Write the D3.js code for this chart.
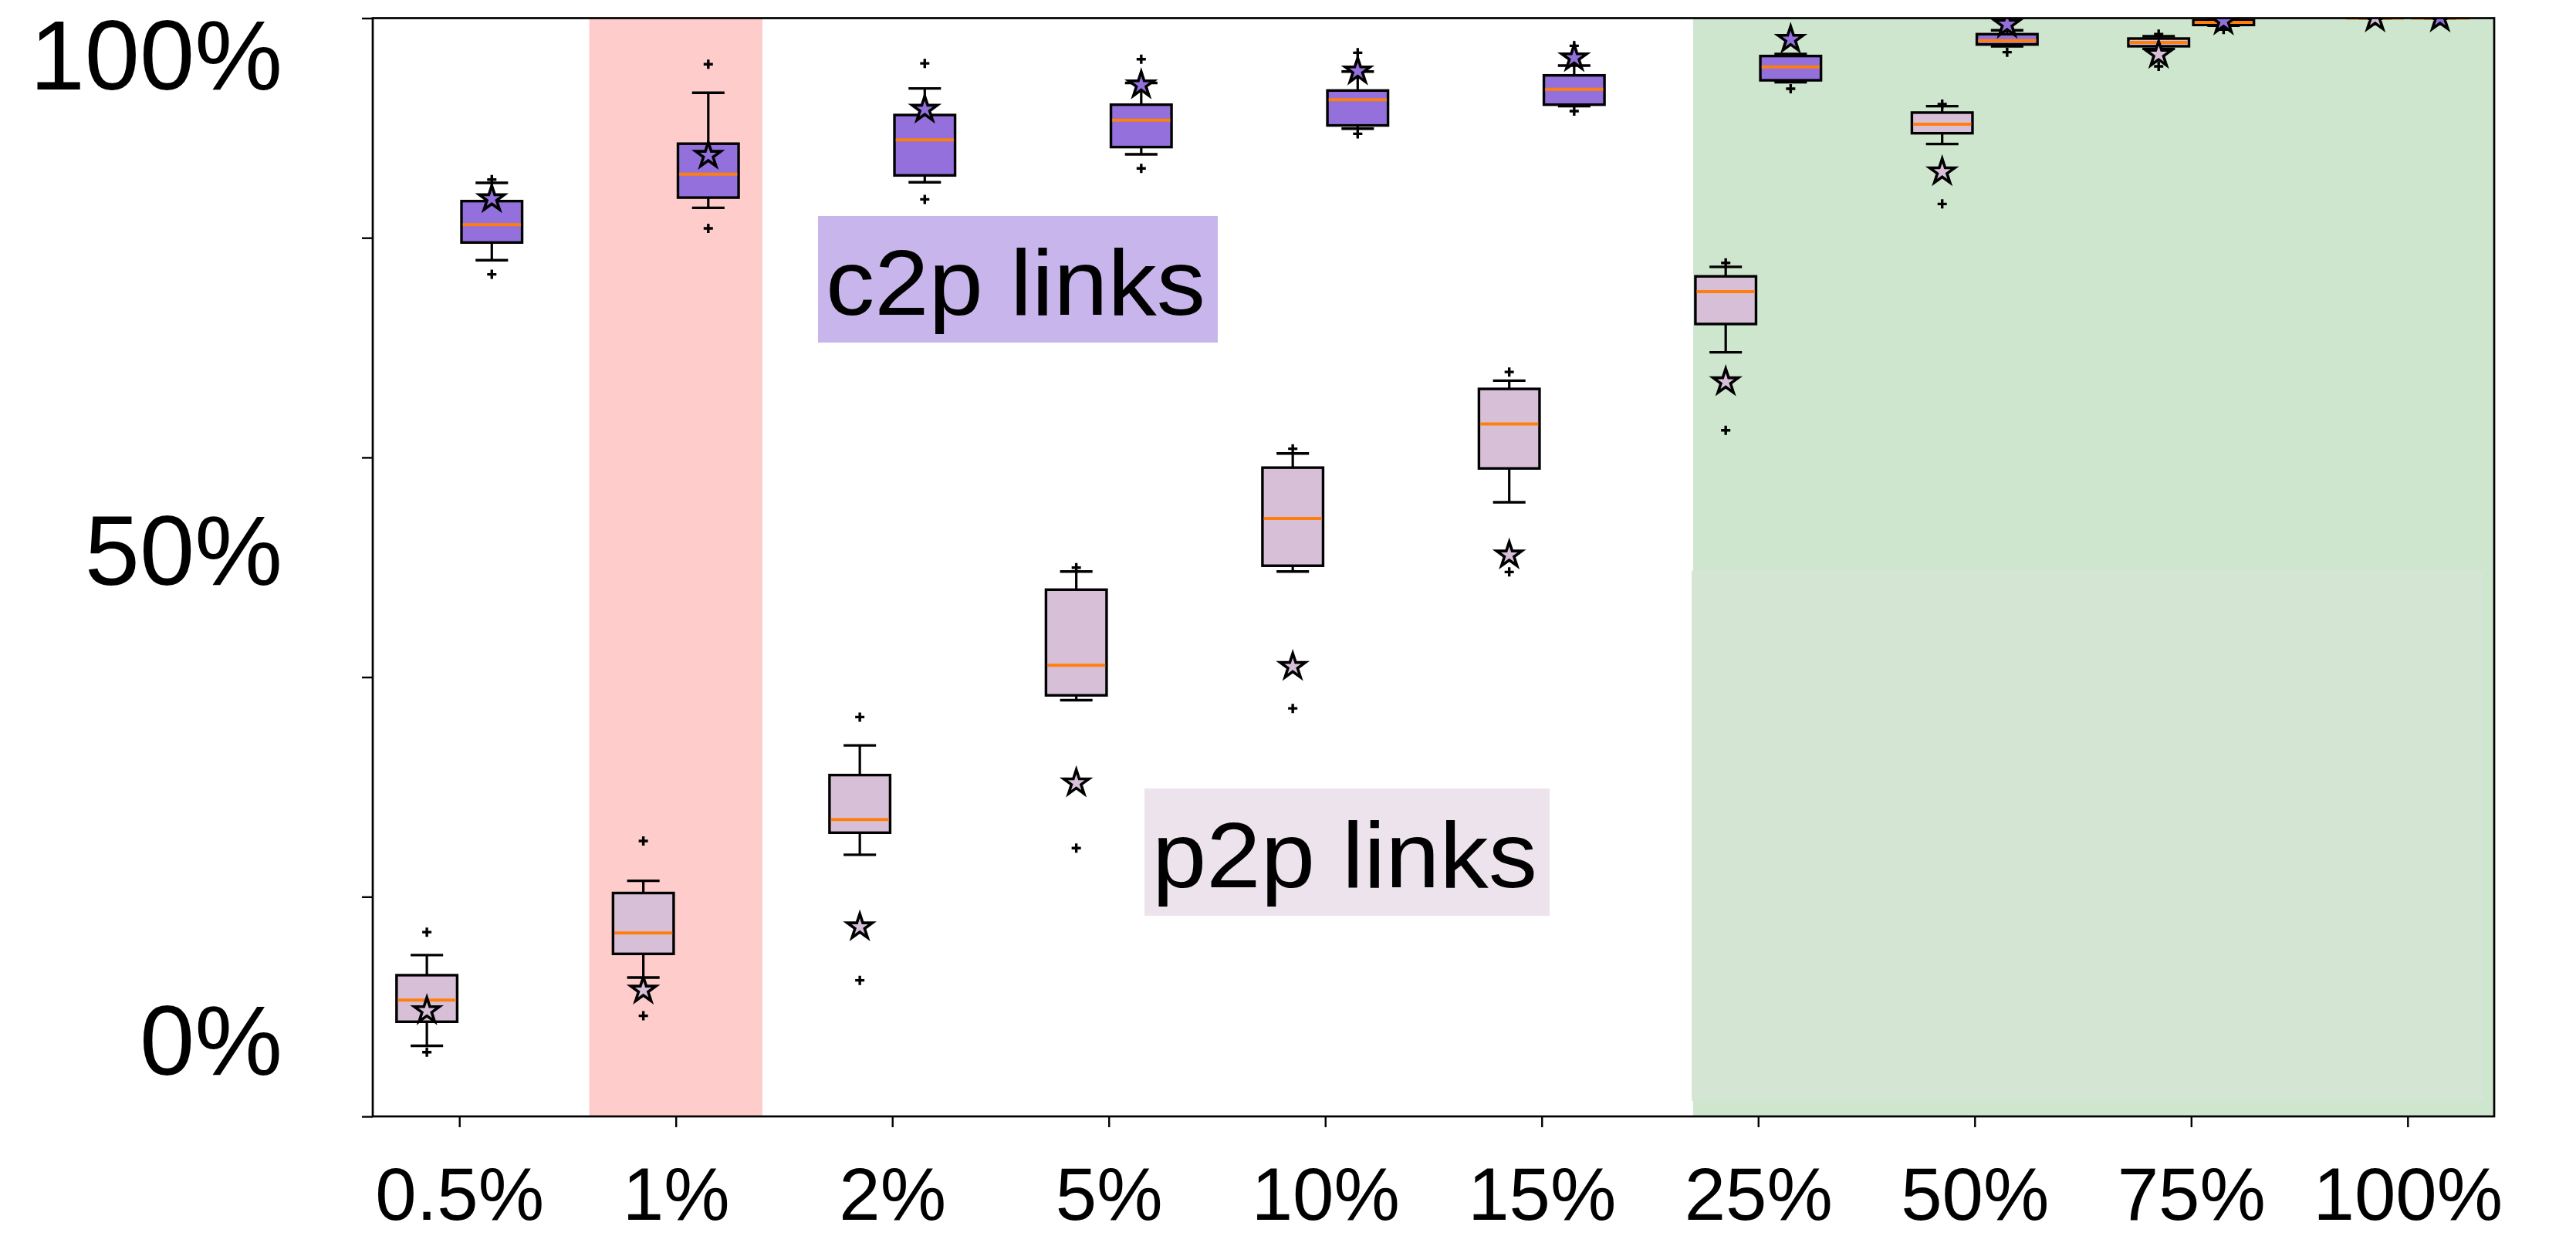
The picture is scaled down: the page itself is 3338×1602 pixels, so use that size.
<!DOCTYPE html>
<html>
<head>
<meta charset="utf-8">
<script src="https://cdn.jsdelivr.net/npm/d3@7"></script>
<style>
body { margin: 0; background: #fff; }
text { font-family: "Liberation Sans", Arial, Helvetica, sans-serif; fill: #000; }
</style>
</head>
<body>
<svg id="chart" width="3338" height="1602"></svg>
<script>
var categories = ["0.5%", "1%", "2%", "5%", "10%", "15%", "25%", "50%", "75%", "100%"];

// [low whisker, q1, median, q3, high whisker]
var p2pBoxes = [
    [0.0643, 0.0862, 0.1059, 0.1286, 0.1469],
    [0.1264, 0.1480, 0.1670, 0.2034, 0.2145],
    [0.2382, 0.2583, 0.2702, 0.3108, 0.3378],
    [0.3790, 0.3834, 0.4107, 0.4796, 0.4961],
    [0.4961, 0.5014, 0.5445, 0.5907, 0.6036],
    [0.5592, 0.5900, 0.6305, 0.6624, 0.6699],
    [0.6957, 0.7215, 0.7510, 0.7649, 0.7735],
    [0.8854, 0.8952, 0.9034, 0.9140, 0.9198],
    [0.9720, 0.9744, 0.9779, 0.9814, 0.9835],
    [1.0, 1.0, 1.0, 1.0, 1.0]
];
var p2pMeans = [0.0962, 0.1149, 0.1725, 0.3036, 0.4096, 0.5111, 0.6688, 0.8600, 0.9669, 1.0];
var p2pFliers = [
    [0.0585, 0.1678], [0.0916, 0.2508], [0.1239, 0.3636], [0.2443, 0.4997], [0.3715, 0.6079],
    [0.4957, 0.6778], [0.6247, 0.7771], [0.8308, 0.9217], [0.9561, 0.9854], []
];

var c2pBoxes = [
    [0.7796, 0.7957, 0.8119, 0.8334, 0.8500],
    [0.8273, 0.8366, 0.8580, 0.8857, 0.9320],
    [0.8505, 0.8568, 0.8891, 0.9118, 0.9360],
    [0.8760, 0.8826, 0.9071, 0.9212, 0.9410],
    [0.8994, 0.9023, 0.9257, 0.9341, 0.9514],
    [0.9198, 0.9212, 0.9352, 0.9479, 0.9568],
    [0.9416, 0.9434, 0.9556, 0.9655, 0.9673],
    [0.9744, 0.9760, 0.9795, 0.9854, 0.9889],
    [0.9931, 0.9938, 0.9961, 0.9978, 1.0],
    [1.0, 1.0, 1.0, 1.0, 1.0]
];
var c2pMeans = [0.8355, 0.8750, 0.9170, 0.9392, 0.9518, 0.9638, 0.9806, 0.9943, 0.9973, 1.0];
var c2pFliers = [
    [0.7667, 0.8530], [0.8086, 0.9580], [0.8350, 0.9588], [0.8632, 0.9626], [0.8947, 0.9685],
    [0.9153, 0.9748], [0.9357], [0.9690], [0.9896], []
];

var yTicks = [0, 0.2, 0.4, 0.6, 0.8, 1.0];
var yLabels = ["0%", "50%", "100%"];
var yLabelAt = [0.0703, 0.5163, 0.9673];

var W = 3338, H = 1602;
var m = {left: 483, right: 106, top: 23.5, bottom: 155};

var svg = d3.select("#chart");

var x = d3.scalePoint()
    .domain(categories)
    .range([m.left, W - m.right])
    .padding(0.4);
var y = d3.scaleLinear()
    .domain([0, 1])
    .range([H - m.bottom, m.top]);

var step = x.step();
var boxW = 0.28 * step, capW = 0.15 * step, off = 0.15 * step;

svg.append("defs").append("clipPath")
    .attr("id", "plot-clip")
    .append("rect")
    .attr("x", m.left).attr("y", m.top)
    .attr("width", W - m.right - m.left)
    .attr("height", H - m.bottom - m.top);

// shaded regions
svg.append("rect")
    .attr("x", x("1%") - 0.4 * step)
    .attr("y", m.top)
    .attr("width", 0.8 * step)
    .attr("height", H - m.bottom - m.top)
    .attr("fill", "#fdcccb");
svg.append("rect")
    .attr("x", x("25%") - 0.3 * step)
    .attr("y", m.top)
    .attr("width", W - m.right - (x("25%") - 0.3 * step))
    .attr("height", H - m.bottom - m.top)
    .attr("fill", "#cee5ce");
svg.append("rect")
    .attr("x", x("25%") - 0.307 * step)
    .attr("y", y(0.497))
    .attr("width", x("100%") + 0.35 * step - (x("25%") - 0.307 * step))
    .attr("height", y(0.014) - y(0.497))
    .attr("fill", "#d4e6d3");

var marks = svg.append("g").attr("clip-path", "url(#plot-clip)");

function drawSeries(boxes, means, fliers, dx, fill) {
    var g = marks.append("g");
    boxes.forEach(function(b, i) {
        var cx = x(categories[i]) + dx;
        var bg = g.append("g");
        bg.append("rect")
            .attr("x", cx - boxW / 2)
            .attr("y", y(b[3]))
            .attr("width", boxW)
            .attr("height", y(b[1]) - y(b[3]))
            .attr("fill", fill)
            .attr("stroke", "#000")
            .attr("stroke-width", 3.4);
        // whiskers
        bg.append("line")
            .attr("x1", cx).attr("x2", cx)
            .attr("y1", y(b[3])).attr("y2", y(b[4]))
            .attr("stroke", "#000").attr("stroke-width", 3.2);
        bg.append("line")
            .attr("x1", cx).attr("x2", cx)
            .attr("y1", y(b[1])).attr("y2", y(b[0]))
            .attr("stroke", "#000").attr("stroke-width", 3.2);
        // caps
        [b[0], b[4]].forEach(function(v) {
            bg.append("line")
                .attr("x1", cx - capW / 2).attr("x2", cx + capW / 2)
                .attr("y1", y(v)).attr("y2", y(v))
                .attr("stroke", "#000").attr("stroke-width", 3.4);
        });
        // median
        bg.append("line")
            .attr("x1", cx - boxW / 2 + 1.7).attr("x2", cx + boxW / 2 - 1.7)
            .attr("y1", y(b[2])).attr("y2", y(b[2]))
            .attr("stroke", "#ff7f0e").attr("stroke-width", 4);
        // fliers
        fliers[i].forEach(function(v) {
            bg.append("path")
                .attr("d", "M-6,0H6M0,-6V6")
                .attr("transform", "translate(" + cx + "," + y(v) + ")")
                .attr("stroke", "#000").attr("stroke-width", 3.4)
                .attr("fill", "none");
        });
        // mean star
        bg.append("path")
            .attr("d", d3.symbol(d3.symbolStar, 330)())
            .attr("transform", "translate(" + cx + "," + y(means[i]) + ")")
            .attr("fill", fill)
            .attr("stroke", "#000")
            .attr("stroke-width", 3.6)
            .attr("stroke-linejoin", "miter");
    });
}

drawSeries(p2pBoxes, p2pMeans, p2pFliers, -off, "#d8bfd8");
drawSeries(c2pBoxes, c2pMeans, c2pFliers, off, "#9370db");

// axes
var yAxis = svg.append("g")
    .attr("transform", "translate(" + m.left + ",0)")
    .call(d3.axisLeft(y).tickValues(yTicks).tickSize(14).tickFormat(""));
yAxis.select(".domain").remove();
yAxis.selectAll(".tick line").attr("stroke-width", 2.4);

var xAxis = svg.append("g")
    .attr("transform", "translate(0," + (H - m.bottom) + ")")
    .call(d3.axisBottom(x).tickSize(14).tickPadding(52));
xAxis.select(".domain").remove();
xAxis.selectAll(".tick line").attr("stroke-width", 2.4);
xAxis.selectAll(".tick text")
    .attr("font-size", 96)
    .attr("font-family", "Liberation Sans, Arial, sans-serif")
    .attr("fill", "#000");

svg.append("g").selectAll("text")
    .data(yLabels)
    .enter()
    .append("text")
    .attr("x", m.left - 117)
    .attr("y", function(d, i) { return y(yLabelAt[i]); })
    .attr("dy", "0.36em")
    .attr("text-anchor", "end")
    .attr("font-size", 128)
    .text(function(d) { return d; });

// frame
svg.append("rect")
    .attr("x", m.left).attr("y", m.top)
    .attr("width", W - m.right - m.left)
    .attr("height", H - m.bottom - m.top)
    .attr("fill", "none")
    .attr("stroke", "#000")
    .attr("stroke-width", 2.7);

// series labels
function addLabel(tx, ty, w, h, fill, label) {
    svg.append("rect")
        .attr("x", tx).attr("y", ty)
        .attr("width", w).attr("height", h)
        .attr("fill", fill);
    svg.append("text")
        .attr("x", tx + 10)
        .attr("y", ty + 128)
        .attr("font-size", 120)
        .attr("textLength", w - 26)
        .attr("lengthAdjust", "spacingAndGlyphs")
        .text(label);
}
addLabel(1060, 280, 518, 164, "#c8b5ec", "c2p links");
addLabel(1483, 1022, 525, 165, "#ede3ed", "p2p links");
</script>
</body>
</html>
